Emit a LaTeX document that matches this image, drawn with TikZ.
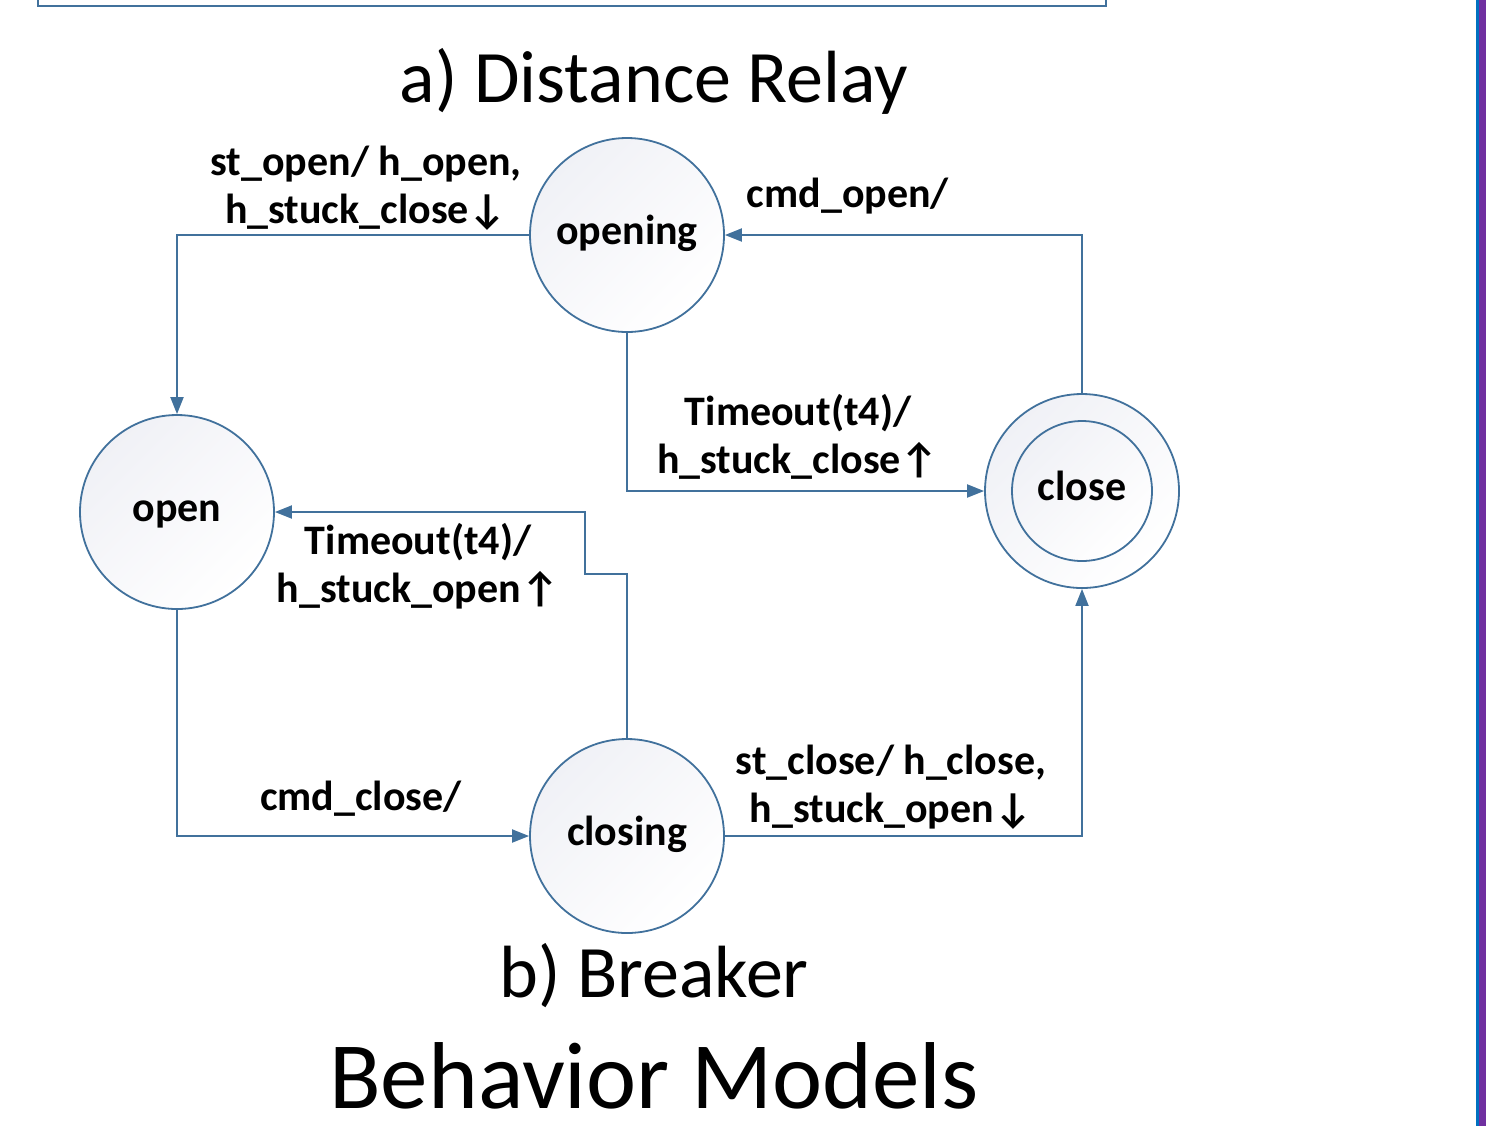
\documentclass[tikz,border=0pt]{standalone}
\usepackage{fontspec}
\setmainfont{Carlito}
\usetikzlibrary{automata,arrows.meta,positioning}
\definecolor{lineblue}{RGB}{65,113,156}
\definecolor{statefill}{RGB}{240,241,246}
\definecolor{barpurple}{RGB}{112,48,160}
\definecolor{barblue}{RGB}{0,112,192}
\newcommand{\dnarr}{↓}
\newcommand{\uparr}{↑}

\begin{document}
\begin{tikzpicture}[x=0.5pt,y=-0.5pt,>={Triangle[length=8.5pt,width=6.5pt]},
  every state/.style={draw=lineblue,line width=0.9pt,top color=statefill,bottom color=white,shading angle=45,minimum size=97pt,inner sep=0pt,text height=12pt,text depth=3pt,font=\fontsize{21}{24}\selectfont\bfseries},
  trans/.style={draw=lineblue,line width=1pt,->},
  lbl/.style={font=\fontsize{21}{24}\selectfont\bfseries,align=center,inner sep=0pt},
  title/.style={font=\fontsize{37}{44}\selectfont,inner sep=0pt}]
  \useasboundingbox (0,0) rectangle (1486,1126);
  % frame of the picture above and bar on the right
  \draw[lineblue,line width=0.8pt] (38,-5) -- (38,6) -- (1106,6) -- (1106,-5);
  \fill[barblue] (1476,0) rectangle (1479,1126);
  \fill[barpurple] (1479,0) rectangle (1486,1126);
  \node[title] (relay) at (654,81) {a) Distance Relay};
  % states
  \node[state] (opening) at (627,235) {opening};
  \node[state] (open) at (177,512) {open};
  \node[state] (closing) at (627,836) {closing};
  \node[state] (close) at (1082,491) {};
  \node[state,minimum size=70pt] (close_in) at (close) {close};
  % transitions
  \path[trans] (opening.west) -| (open.north);
  \path[trans] (close.north) |- (opening.east);
  \path[trans] (opening.south) |- (close.west);
  \path[trans] (closing.north) -- ++(0,-164) -- ++(-42,0) |- (open.east);
  \path[trans] (open.south) |- (closing.west);
  \path[trans] (closing.east) -| (close.south);
  % labels
  \node[lbl] (l_stopen) at (366,188) {st\_open/ h\_open,\\h\_stuck\_close\dnarr};
  \node[lbl] (l_cmdopen) at (848,196) {cmd\_open/};
  \node[lbl] (l_toclose) at (798,437) {Timeout(t4)/\\h\_stuck\_close\uparr};
  \node[lbl] (l_toopen) at (418,566) {Timeout(t4)/\\h\_stuck\_open\uparr};
  \node[lbl] (l_cmdclose) at (361,799) {cmd\_close/};
  \node[lbl] (l_stclose) at (891,787) {st\_close/ h\_close,\\h\_stuck\_open\dnarr};
  % titles
  \node[title] (breaker) at (654,976) {b) Breaker};
  \node[title,font=\fontsize{47.5}{56}\selectfont] (models) at (654,1076) {Behavior Models};
\end{tikzpicture}
\end{document}
